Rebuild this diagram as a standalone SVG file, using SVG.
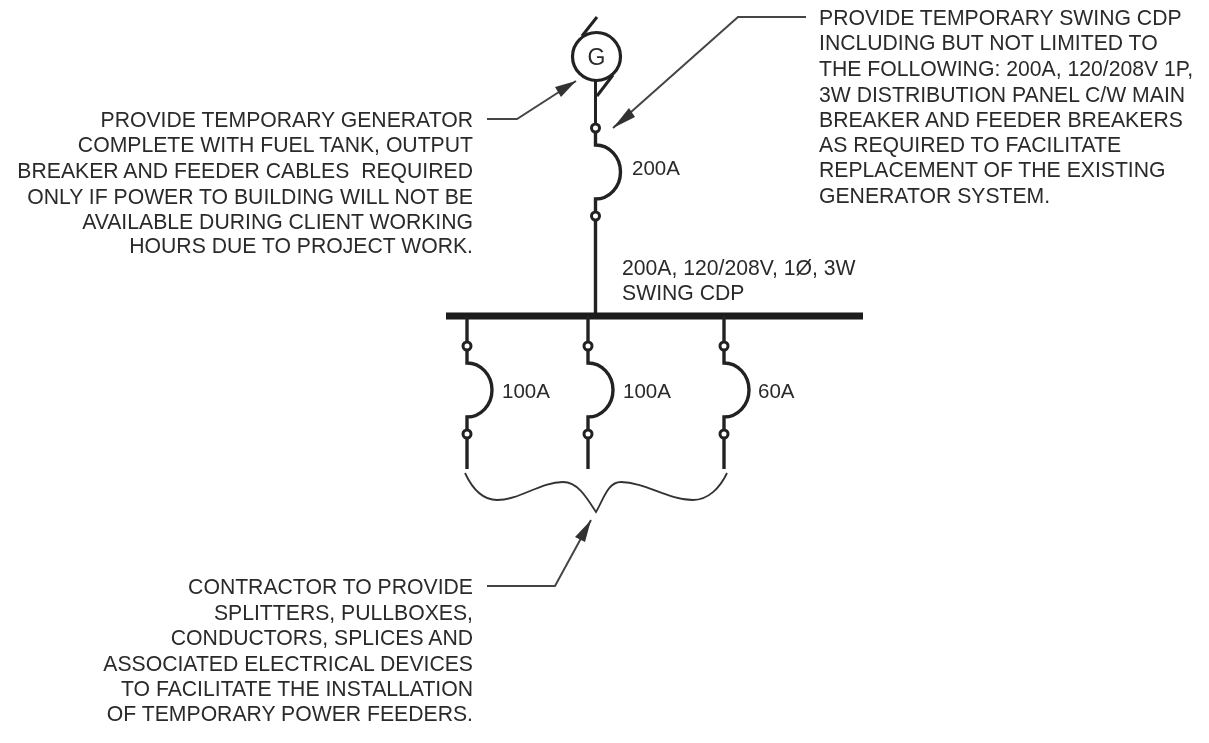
<svg xmlns="http://www.w3.org/2000/svg" width="1209" height="743" viewBox="0 0 1209 743">
<style>
text{font-family:"Liberation Sans",Arial,sans-serif;font-size:21.200px;fill:#2a2a2a;white-space:pre}
.v{font-size:20.500px}
.r{text-anchor:end}
.w{fill:none;stroke:#222;stroke-width:3.400}
.t{fill:#fff;stroke:#222;stroke-width:3}
.l{fill:none;stroke:#444;stroke-width:2}
.h{fill:#333}
.b{fill:none;stroke:#333;stroke-width:1.800}
</style>
<defs>
<filter id="soft" x="0" y="0" width="100%" height="100%"><feGaussianBlur stdDeviation="0.550"/></filter>
<g id="brk"><path class="w" d="M0 0V17A25 27 0 0 1 0 71V88"/><circle class="t" cx="0" cy="0" r="4"/><circle class="t" cx="0" cy="88" r="4"/></g>
</defs>
<rect width="1209" height="743" fill="#fff"/>
<g filter="url(#soft)">
<g id="connectors">
<path class="l" d="M806 17H738L613 128"/>
<path class="h" d="M613 128L635 117L629 108Z"/>
<path class="l" d="M487 119H517L576 81"/>
<path class="h" d="M576 81L561 97L555 87Z"/>
<path class="l" d="M487 586H555L591 520"/>
<path class="h" d="M591 520L585 542L575 537Z"/>
<path class="b" d="M465 473C472 488 482 500 497 500C520 500 540 482 563 482C578 482 587 498 596 512C604 498 608 482 621 482C645 482 668 500 693 500C708 500 720 488 727 473"/>
</g>
<g id="generator">
<circle cx="596.500" cy="56.500" r="24" fill="#fff" stroke="#222" stroke-width="3.200"/>
<text x="596.500" y="65" text-anchor="middle" style="font-size:23px">G</text>
<path class="w" d="M582 36L597 17M613 75L597 96M595.500 81V128" style="stroke-width:3"/>
</g>
<g id="feeder">
<path class="w" d="M595.500 128V145A25 27 0 0 1 595.500 199V316"/>
<circle class="t" cx="595.500" cy="128" r="4"/><circle class="t" cx="595.500" cy="216" r="4"/>
</g>
<g id="bus"><path d="M446 316H863" stroke="#1c1c1c" stroke-width="7" fill="none"/></g>
<g id="branch1"><path class="w" d="M467 316V346M467 434V469"/><use href="#brk" x="467" y="346"/></g>
<g id="branch2"><path class="w" d="M588 316V346M588 434V469"/><use href="#brk" x="588" y="346"/></g>
<g id="branch3"><path class="w" d="M724 316V346M724 434V469"/><use href="#brk" x="724" y="346"/></g>
<g id="labels">
<text class="v" x="632" y="175">200A</text>
<text class="v" x="502" y="398">100A</text>
<text class="v" x="623" y="398">100A</text>
<text class="v" x="758" y="398">60A</text>
<text x="622" y="275">200A, 120/208V, 1Ø, 3W</text>
<text x="622" y="300">SWING CDP</text>
</g>
<g id="note-generator">
<text class="r" x="473" y="127">PROVIDE TEMPORARY GENERATOR</text>
<text class="r" x="473" y="152">COMPLETE WITH FUEL TANK, OUTPUT</text>
<text class="r" x="473" y="178">BREAKER AND FEEDER CABLES  REQUIRED</text>
<text class="r" x="473" y="204">ONLY IF POWER TO BUILDING WILL NOT BE</text>
<text class="r" x="473" y="229">AVAILABLE DURING CLIENT WORKING</text>
<text class="r" x="473" y="253">HOURS DUE TO PROJECT WORK.</text>
</g>
<g id="note-cdp">
<text x="819" y="25">PROVIDE TEMPORARY SWING CDP</text>
<text x="819" y="50">INCLUDING BUT NOT LIMITED TO</text>
<text x="819" y="76">THE FOLLOWING: 200A, 120/208V 1P,</text>
<text x="819" y="102">3W DISTRIBUTION PANEL C/W MAIN</text>
<text x="819" y="127">BREAKER AND FEEDER BREAKERS</text>
<text x="819" y="152">AS REQUIRED TO FACILITATE</text>
<text x="819" y="177">REPLACEMENT OF THE EXISTING</text>
<text x="819" y="203">GENERATOR SYSTEM.</text>
</g>
<g id="note-contractor">
<text class="r" x="473" y="594">CONTRACTOR TO PROVIDE</text>
<text class="r" x="473" y="620">SPLITTERS, PULLBOXES,</text>
<text class="r" x="473" y="645">CONDUCTORS, SPLICES AND</text>
<text class="r" x="473" y="671">ASSOCIATED ELECTRICAL DEVICES</text>
<text class="r" x="473" y="696">TO FACILITATE THE INSTALLATION</text>
<text class="r" x="473" y="721">OF TEMPORARY POWER FEEDERS.</text>
</g>
</g>
</svg>
